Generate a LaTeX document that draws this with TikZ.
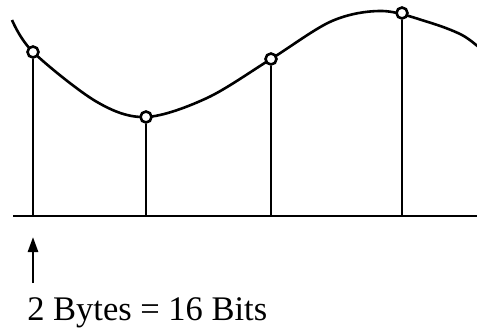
\documentclass[tikz,border=0pt]{standalone}
\usepackage{fontspec}
\setmainfont{Liberation Serif}
\usetikzlibrary{arrows.meta}
\begin{document}
\begin{tikzpicture}[x=1pt,y=-1pt,
  line width=2.6pt,
  sample/.style={circle,draw,fill=white,inner sep=0pt,minimum size=11pt,line width=2.6pt},
  stem/.style={line width=2.6pt},
  curveline/.style={line width=2.6pt}]
\useasboundingbox (0,0) rectangle (477,327);
% curve
\draw[curveline] plot[smooth,tension=0.55] coordinates {(12,20) (33,52) (97,102) (146,117) (207,98) (271,59) (332,21) (382,11) (428,22) (462,35) (482,50)};
% baseline
\coordinate (L) at (13,216);
\coordinate (R) at (477,216);
\draw[stem] (L) -- (R);
% base points
\coordinate (b1) at (33,216);
\coordinate (b2) at (146,216);
\coordinate (b3) at (271,216);
\coordinate (b4) at (402,216);
\node[sample] (p1) at (33,52) {};
\node[sample] (p2) at (146,117) {};
\node[sample] (p3) at (271,59) {};
\node[sample] (p4) at (402,13) {};
\draw[stem] (p1) -- (b1);
\draw[stem] (p2) -- (b2);
\draw[stem] (p3) -- (b3);
\draw[stem] (p4) -- (b4);
% arrow
\coordinate (a0) at (33,283);
\coordinate (a1) at (33,237);
\draw[-{Triangle[length=15pt,width=10pt]}] (a0) -- (a1);
\node[anchor=base west,inner sep=0pt,font=\fontsize{34.5}{38}\selectfont] (lbl) at (26,320) {2 Bytes = 16 Bits};
\end{tikzpicture}
\end{document}
